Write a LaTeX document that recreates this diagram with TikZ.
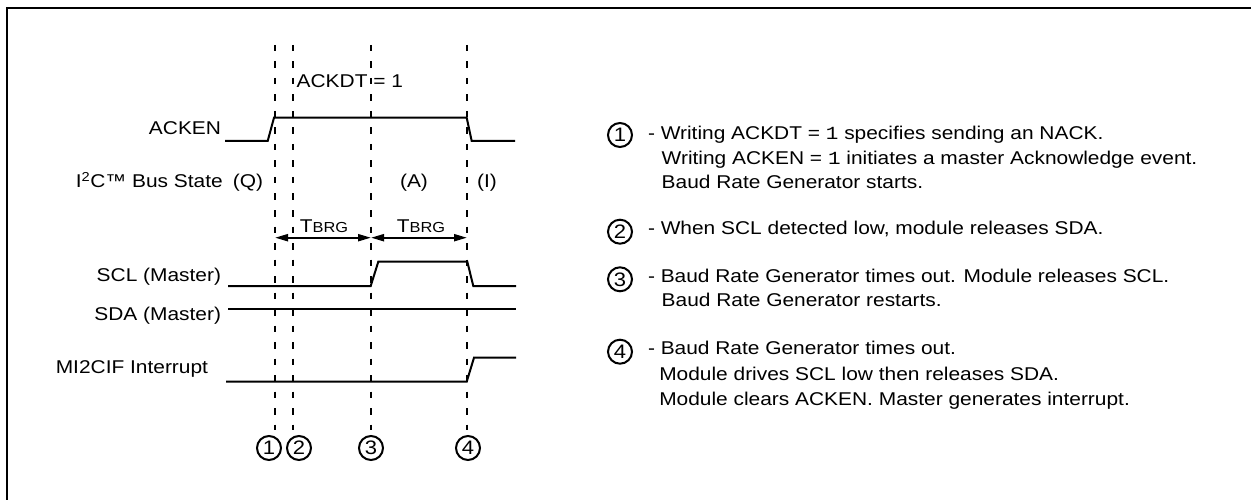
\documentclass[tikz,border=0pt]{standalone}
\usepackage{fontspec}
\setmainfont{Liberation Sans}[FakeStretch=1.13]
\setmonofont{Liberation Mono}[FakeStretch=1.13]
\usetikzlibrary{arrows.meta}
\begin{document}
\begin{tikzpicture}[x=1pt,y=-1pt,
  every node/.style={inner sep=0pt, outer sep=0pt, font=\fontsize{18.5}{24}\selectfont},
  lbl/.style={anchor=base east},
  txt/.style={anchor=base west},
  sig/.style={line width=2pt},
  gridline/.style={line width=2pt, dash pattern=on 6.5pt off 10pt},
  num/.style={circle, draw, line width=2pt, minimum size=24pt, inner sep=0pt, font=\fontsize{19.5}{19.5}\selectfont},
  dimarrow/.style={line width=2pt, {Triangle[length=13pt,width=7pt]}-{Triangle[length=13pt,width=7pt]}},
  frameline/.style={line width=2pt}]
\useasboundingbox (0,0) rectangle (1251,500);

% frame (left and top edges visible)
\coordinate (fbl) at (6.5,500);
\coordinate (ftl) at (6.5,7.7);
\coordinate (ftr) at (1251,7.7);
\draw[frameline] (fbl) -- (ftl) -- (ftr);

% dashed timing lines
\foreach \i/\x in {1/275,2/293,3/371,4/467}{
  \coordinate (d\i t) at (\x,45);
  \coordinate (d\i b) at (\x,430);
  \draw[gridline] (d\i t) -- (d\i b);
}

% labels
\node[lbl] (lacken) at (221,135) {ACKEN};
\node[lbl] (lbus) at (263,188) {I\textsuperscript{2}C™ Bus State\hspace{10pt}(Q)};
\node[lbl] (lscl) at (221,281.5) {SCL (Master)};
\node[lbl] (lsda) at (221,320) {SDA (Master)};
\node[lbl] (lint) at (208,373) {MI2CIF Interrupt};

\node[txt] (ackdt) at (296.7,87.7) {ACKDT = 1};
\node[anchor=base] (stA) at (414,188) {(A)};
\node[anchor=base] (stI) at (487,188) {(I)};

% waveforms
\draw[sig] (225,141) -- (267.7,141) -- (274,117.7) -- (466.7,117.7) -- (471.7,141) -- (515,141);
\draw[sig] (228,286) -- (370.7,286) -- (378.3,261.7) -- (467.3,261.7) -- (473.3,286) -- (516,286);
\draw[sig] (228,309.3) -- (516,309.3);
\draw[sig] (226,381.7) -- (466.7,381.7) -- (474,357.7) -- (516,357.7);

% TBRG dimensions
\coordinate (a1) at (275,237.7);
\coordinate (a2) at (371,237.7);
\coordinate (a3) at (467,237.7);
\draw[dimarrow] (a1) -- (a2);
\draw[dimarrow] (a2) -- (a3);
\node[anchor=base] (tb1) at (324,232.3) {T{\fontsize{14.5}{14.5}\selectfont BRG}};
\node[anchor=base] (tb2) at (421,232.3) {T{\fontsize{14.5}{14.5}\selectfont BRG}};

% bottom event markers
\node[num] (e1) at (269,448) {1};
\node[num] (e2) at (299,448) {2};
\node[num] (e3) at (371,448) {3};
\node[num] (e4) at (468,448) {4};

% description column
\node[num] (c1) at (620,135) {1};
\node[txt] (t1a) at (648,140) {- Writing ACKDT = \texttt{1} specifies sending an NACK.};
\node[txt] (t1b) at (661.7,164.5) {Writing ACKEN = \texttt{1} initiates a master Acknowledge event.};
\node[txt] (t1c) at (661.7,189) {Baud Rate Generator starts.};

\node[num] (c2) at (620,231.7) {2};
\node[txt] (t2a) at (648,234.6) {- When SCL detected low, module releases SDA.};

\node[num] (c3) at (620,279.3) {3};
\node[txt] (t3a) at (648,282.6) {- Baud Rate Generator times out. Module releases SCL.};
\node[txt] (t3b) at (661.7,306) {Baud Rate Generator restarts.};

\node[num] (c4) at (620,351.7) {4};
\node[txt] (t4a) at (648,354.3) {- Baud Rate Generator times out.};
\node[txt] (t4b) at (659.3,380.6) {Module drives SCL low then releases SDA.};
\node[txt] (t4c) at (659.3,405) {Module clears ACKEN. Master generates interrupt.};
\end{tikzpicture}
\end{document}
